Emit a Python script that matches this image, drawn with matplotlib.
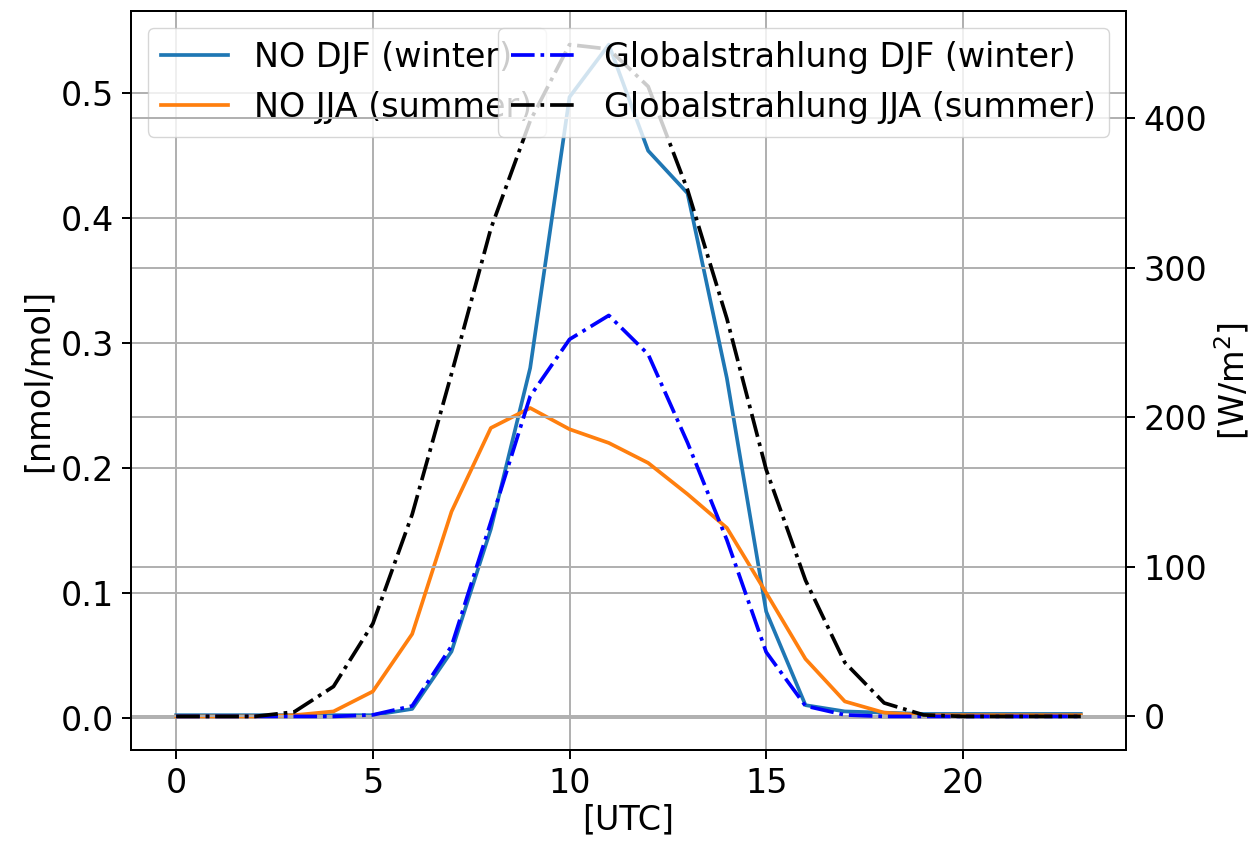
import matplotlib
matplotlib.use("Agg")
import matplotlib.pyplot as plt
import numpy as np

hours = list(range(24))

no_djf = [0.002, 0.002, 0.002, 0.002, 0.002, 0.002, 0.007, 0.053, 0.151, 0.280,
          0.497, 0.539, 0.454, 0.420, 0.272, 0.085, 0.010, 0.005, 0.004, 0.003,
          0.003, 0.003, 0.003, 0.003]
no_jja = [0.001, 0.001, 0.001, 0.002, 0.005, 0.021, 0.067, 0.165, 0.232, 0.248,
          0.231, 0.220, 0.204, 0.179, 0.152, 0.100, 0.047, 0.013, 0.004, 0.002,
          0.002, 0.002, 0.002, 0.002]
gs_djf = [0, 0, 0, 0, 0, 1, 7, 47, 130, 214,
          252, 268, 242, 183, 118, 43, 7, 1, 0, 0,
          0, 0, 0, 0]
gs_jja = [0, 0, 0, 3, 20, 62, 135, 229, 326, 398,
          449, 446, 421, 352, 266, 165, 91, 36, 9, 1,
          0, 0, 0, 0]

s = 1.77
plt.rcParams.update({
    "font.size": 24,
    "lines.linewidth": 1.5 * s,
    "axes.linewidth": 0.8 * s,
    "grid.linewidth": 0.8 * s,
    "xtick.major.size": 3.5 * s,
    "ytick.major.size": 3.5 * s,
    "xtick.major.width": 0.8 * s,
    "ytick.major.width": 0.8 * s,
    "xtick.major.pad": 3.5 * s,
    "ytick.major.pad": 3.5 * s,
    "legend.borderaxespad": 0.5,
})

fig = plt.figure(figsize=(12.52, 8.41), dpi=100)
ax1 = fig.add_axes([0.1046, 0.1082, 0.7948, 0.8787])
ax2 = ax1.twinx()

ax1.plot(hours, no_djf, color="tab:blue", label="NO DJF (winter)")
ax1.plot(hours, no_jja, color="tab:orange", label="NO JJA (summer)")
ax2.plot(hours, gs_djf, "b-.", label="Globalstrahlung DJF (winter)")
ax2.plot(hours, gs_jja, "k-.", label="Globalstrahlung JJA (summer)")

ax1.set_xlabel("[UTC]", labelpad=2)
ax1.set_ylabel("[nmol/mol]")
ax2.set_ylabel("[W/m$^2$]")

ax1.set_xticks([0, 5, 10, 15, 20])
ax1.grid(True)
ax2.grid(True)

ax1.legend(loc="upper left")
ax2.legend(loc="upper right")

fig.savefig("out.png", dpi=100)
